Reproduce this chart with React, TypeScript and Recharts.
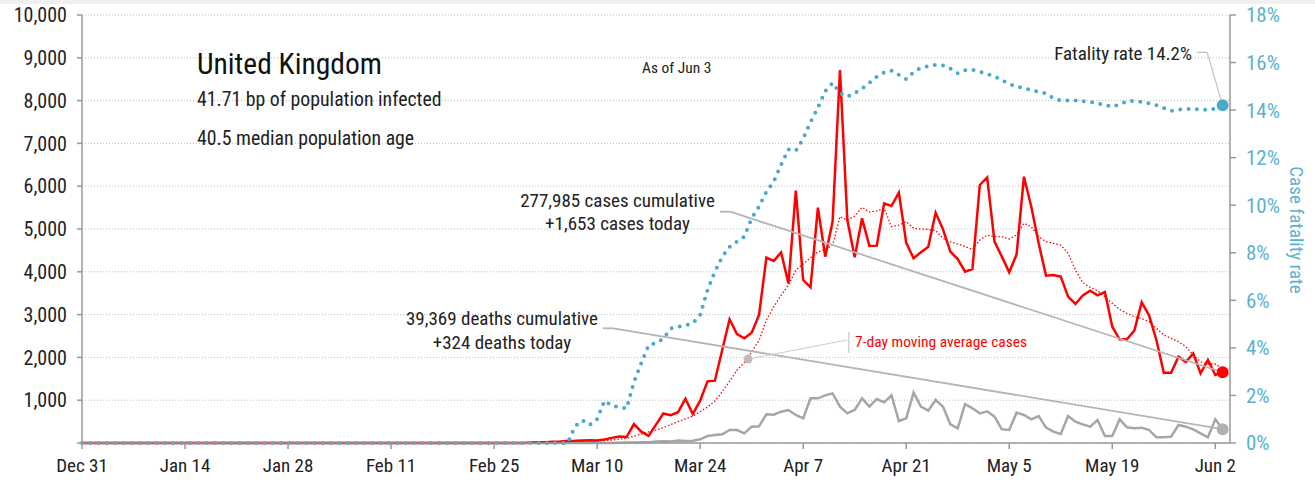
import React from 'react';
import { LineChart, Line, XAxis, YAxis, CartesianGrid, ReferenceLine, ReferenceDot } from 'recharts';

const FONT = "'Liberation Sans Narrow', 'Arial Narrow', 'Roboto Condensed', 'DejaVu Sans Condensed', sans-serif";

// x axis: days since Dec 31, 2019
const tickDays = [0, 14, 28, 42, 56, 70, 84, 98, 112, 126, 140, 154];
const tickLabels = ['Dec 31', 'Jan 14', 'Jan 28', 'Feb 11', 'Feb 25', 'Mar 10', 'Mar 24', 'Apr 7', 'Apr 21', 'May 5', 'May 19', 'Jun 2'];
const leftTicks = [0, 1000, 2000, 3000, 4000, 5000, 6000, 7000, 8000, 9000, 10000];
const rightTicks = [0, 2, 4, 6, 8, 10, 12, 14, 16, 18];

const TOTAL_DAYS = 156; // Dec 31 .. Jun 3
const FIRST_DAY = 61; // Mar 1; all series are zero before this day

// daily new cases, Mar 1 .. Jun 3
const cases = [
  10, 15, 20, 30, 35, 45, 50, 60, 65, 60,
  80, 120, 150, 140, 440, 265, 165, 430, 690, 650,
  720, 1035, 677, 988, 1441, 1456, 2173, 2890, 2547, 2445,
  2578, 2990, 4330, 4255, 4455, 3730, 5895, 3808, 3637, 5498,
  4354, 5180, 8715, 5210, 4338, 5249, 4603, 4611, 5599, 5537,
  5849, 4680, 4315, 4455, 4587, 5381, 4992, 4470, 4299, 4003,
  4065, 6028, 6205, 4704, 4354, 3988, 4408, 6222, 5522, 4665,
  3910, 3925, 3886, 3419, 3248, 3450, 3559, 3450, 3528, 2718,
  2422, 2422, 2625, 3287, 2983, 2407, 1643, 1643, 2017, 1893,
  2095, 1628, 1939, 1589, 1653,
];

// 7-day moving average of cases, Mar 1 .. Jun 3
const movingAvg = [
  5, 8, 12, 18, 22, 28, 33, 40, 48, 52,
  58, 70, 90, 110, 160, 210, 260, 300, 360, 430,
  500, 565, 630, 730, 840, 980, 1200, 1440, 1700, 1880,
  2130, 2400, 2870, 3180, 3450, 3690, 4040, 4180, 4330, 4460,
  4525, 4626, 5288, 5210, 5304, 5506, 5397, 5421, 5483, 5054,
  5093, 5171, 5016, 5000, 4992, 4961, 4782, 4700, 4650, 4590,
  4525, 4743, 4860, 4820, 4820, 4766, 4860, 5133, 5054, 4820,
  4704, 4665, 4626, 4432, 4042, 3745, 3637, 3559, 3419, 3263,
  3123, 3030, 2951, 2905, 2835, 2679, 2523, 2445, 2367, 2250,
  2056, 1900, 1846, 1846, 1745,
];

// daily deaths, Mar 1 .. Jun 3
const deaths = [
  0, 0, 0, 1, 0, 1, 0, 1, 2,
  2, 1, 2, 5, 10, 14, 20, 16, 33, 40, 33,
  56, 48, 54, 87, 163, 187, 202, 304, 304, 226,
  381, 390, 670, 660, 732, 771, 654, 576, 1044, 1044,
  1114, 1160, 849, 693, 771, 1044, 849, 1028, 950, 1114,
  514, 576, 1176, 849, 755, 1005, 849, 436, 343, 911,
  810, 693, 740, 615, 319, 304, 709, 654, 553, 631,
  358, 265, 210, 631, 498, 436, 381, 537, 163, 163,
  553, 366, 343, 358, 304, 132, 132, 148, 421, 381,
  319, 226, 132, 553, 324,
];

// case fatality rate (%), Mar 1 .. Jun 3
const fatality = [
  0, 0, 0, 0, 0, 0,
  0.7, 0.95, 0.76, 1.0, 1.78, 1.56, 1.52, 1.45, 2.56, 3.36, 4.12, 4.2, 4.39, 4.82,
  4.89, 4.95, 5.03, 5.38, 6.43, 7.2, 7.83, 8.25, 8.47, 8.68,
  9.45, 9.94, 10.57, 11.0, 11.7, 12.35, 12.29, 12.8, 13.5, 14.1,
  14.8, 15.15, 14.72, 14.56, 14.71, 14.9, 15.15, 15.4, 15.58, 15.66,
  15.48, 15.3, 15.6, 15.78, 15.85, 15.9, 15.88, 15.75, 15.55, 15.68,
  15.7, 15.62, 15.52, 15.42, 15.26, 15.1, 15.0, 14.92, 14.85, 14.77,
  14.7, 14.5, 14.4, 14.4, 14.4, 14.38, 14.35, 14.28, 14.22, 14.14,
  14.24, 14.38, 14.38, 14.35, 14.28, 14.2, 14.08, 13.97, 14.02, 14.04,
  14.05, 14.03, 14.0, 14.06, 14.2,
];

const LAST_DAY = TOTAL_DAYS - 1;
const lastCases = cases[cases.length - 1];
const lastDeaths = deaths[deaths.length - 1];
const lastFatality = fatality[fatality.length - 1];

const data = Array.from({ length: TOTAL_DAYS }, (_, day) => {
  const i = day - FIRST_DAY;
  return {
    day,
    cases: i >= 0 ? cases[i] : 0,
    ma: i >= 0 ? movingAvg[i] : 0,
    deaths: i >= 0 ? deaths[i] : 0,
    cfr: i >= 0 ? fatality[i] : 0,
  };
});

const BLUE = '#4aaac9';
const RED = '#ff0000';
const GRAY = '#a6a6a6';
const AXIS = '#999999';

export default function App() {
  return (
    <div style={{ position: 'absolute', left: 0, top: 0, width: 1315, height: 482, background: '#fff', fontFamily: FONT }}>
      <div style={{ position: 'absolute', left: 0, top: 0, width: 1315, height: 4, background: '#f0f0f0' }} />
      <LineChart width={1315} height={482} data={data} margin={{ top: 15, right: 0, bottom: 0, left: 0 }}>
        <CartesianGrid yAxisId="left" vertical={false} stroke="#bbbbbb" strokeDasharray="1 2" />
        <XAxis
          dataKey="day"
          type="number"
          domain={[0, TOTAL_DAYS]}
          ticks={tickDays}
          tickFormatter={(v) => tickLabels[tickDays.indexOf(v)] ?? ''}
          height={39}
          tickSize={6}
          tickMargin={10}
          axisLine={{ stroke: AXIS, strokeWidth: 1.5 }}
          tickLine={{ stroke: AXIS, strokeWidth: 1.5 }}
          tick={{ fill: '#222', fontSize: 19, fontFamily: FONT }}
          interval={0}
        />
        <YAxis
          yAxisId="left"
          domain={[0, 10000]}
          ticks={leftTicks}
          tickFormatter={(v) => (v === 0 ? '' : v.toLocaleString('en-US'))}
          width={82}
          tickSize={5}
          tickMargin={10}
          axisLine={{ stroke: AXIS, strokeWidth: 1.5 }}
          tickLine={{ stroke: AXIS, strokeWidth: 1.5 }}
          tick={{ fill: '#222', fontSize: 20, fontFamily: FONT }}
          interval={0}
        />
        <YAxis
          yAxisId="right"
          orientation="right"
          domain={[0, 18]}
          ticks={rightTicks}
          tickFormatter={(v) => `${v}%`}
          width={85}
          tickSize={6}
          tickMargin={10}
          axisLine={{ stroke: AXIS, strokeWidth: 1.5 }}
          tickLine={{ stroke: AXIS, strokeWidth: 1.5 }}
          tick={{ fill: '#5ab2cf', fontSize: 21, fontFamily: FONT }}
          interval={0}
        />
        <Line yAxisId="left" dataKey="deaths" stroke={GRAY} strokeWidth={2.5} dot={false} isAnimationActive={false} />
        <Line yAxisId="left" dataKey="ma" stroke={RED} strokeWidth={1.3} strokeDasharray="1.5 2" dot={false} isAnimationActive={false} />
        <Line yAxisId="left" dataKey="cases" stroke={RED} strokeWidth={2.5} dot={false} isAnimationActive={false} />
        <Line yAxisId="right" dataKey="cfr" stroke={BLUE} strokeWidth={4} strokeDasharray="0 8.3" strokeLinecap="round" dot={false} isAnimationActive={false} />

        {/* leader: cases */}
        <ReferenceLine yAxisId="left" segment={[{ x: 86.7, y: 5404 }, { x: 88.1, y: 5404 }]} stroke="#b5b5b5" strokeWidth={1.8} />
        <ReferenceLine yAxisId="left" segment={[{ x: 88.1, y: 5404 }, { x: LAST_DAY, y: lastCases }]} stroke="#b5b5b5" strokeWidth={1.8} />
        {/* leader: deaths */}
        <ReferenceLine yAxisId="left" segment={[{ x: 70.8, y: 2680 }, { x: 72.2, y: 2680 }]} stroke="#b5b5b5" strokeWidth={1.8} />
        <ReferenceLine yAxisId="left" segment={[{ x: 72.2, y: 2680 }, { x: LAST_DAY, y: lastDeaths }]} stroke="#b5b5b5" strokeWidth={1.8} />
        {/* leader: fatality */}
        <ReferenceLine yAxisId="right" segment={[{ x: 151.5, y: 16.43 }, { x: 152.9, y: 16.43 }]} stroke="#c4c4c4" strokeWidth={1.3} />
        <ReferenceLine yAxisId="right" segment={[{ x: 152.9, y: 16.43 }, { x: LAST_DAY, y: lastFatality }]} stroke="#c4c4c4" strokeWidth={1.3} />
        {/* pointer: moving average */}
        <ReferenceLine yAxisId="left" segment={[{ x: 90.5, y: 1960 }, { x: 104.0, y: 2407 }]} stroke="#cccccc" strokeWidth={1} />
        <ReferenceLine yAxisId="left" segment={[{ x: 104.2, y: 2593 }, { x: 104.2, y: 2103 }]} stroke="#cccccc" strokeWidth={1.3} />
        <ReferenceDot yAxisId="left" x={90.5} y={1960} r={4.5} fill="#bdbdbd" stroke="none" />

        <ReferenceDot yAxisId="left" x={LAST_DAY} y={lastCases} r={6} fill={RED} stroke="none" />
        <ReferenceDot yAxisId="left" x={LAST_DAY} y={lastDeaths} r={6} fill="#b0b0b0" stroke="none" />
        <ReferenceDot yAxisId="right" x={LAST_DAY} y={lastFatality} r={6} fill={BLUE} stroke="none" />
      </LineChart>

      <svg width={1315} height={482} style={{ position: 'absolute', left: 0, top: 0, pointerEvents: 'none' }} fontFamily={FONT}>
        <text x={197} y={74} fontSize={29.5} fill="#111">United Kingdom</text>
        <text x={197} y={106} fontSize={19.8} fill="#222">41.71 bp of population infected</text>
        <text x={197} y={145} fontSize={19.8} fill="#222">40.5 median population age</text>
        <text x={642} y={73} fontSize={15.5} fill="#222">As of Jun 3</text>
        <text x={1192} y={60} fontSize={19} fill="#222" textAnchor="end">Fatality rate 14.2%</text>
        <text x={617.5} y={206.5} fontSize={19} fill="#222" textAnchor="middle">277,985 cases cumulative</text>
        <text x={617.5} y={230} fontSize={19} fill="#222" textAnchor="middle">+1,653 cases today</text>
        <text x={502} y={325} fontSize={19} fill="#222" textAnchor="middle">39,369 deaths cumulative</text>
        <text x={502} y={348.5} fontSize={19} fill="#222" textAnchor="middle">+324 deaths today</text>
        <text x={855} y={347} fontSize={15.5} fill={RED}>7-day moving average cases</text>
        <text transform="translate(1290,230) rotate(90)" fontSize={19} fill="#5ab2cf" textAnchor="middle">Case fatality rate</text>
      </svg>
    </div>
  );
}
